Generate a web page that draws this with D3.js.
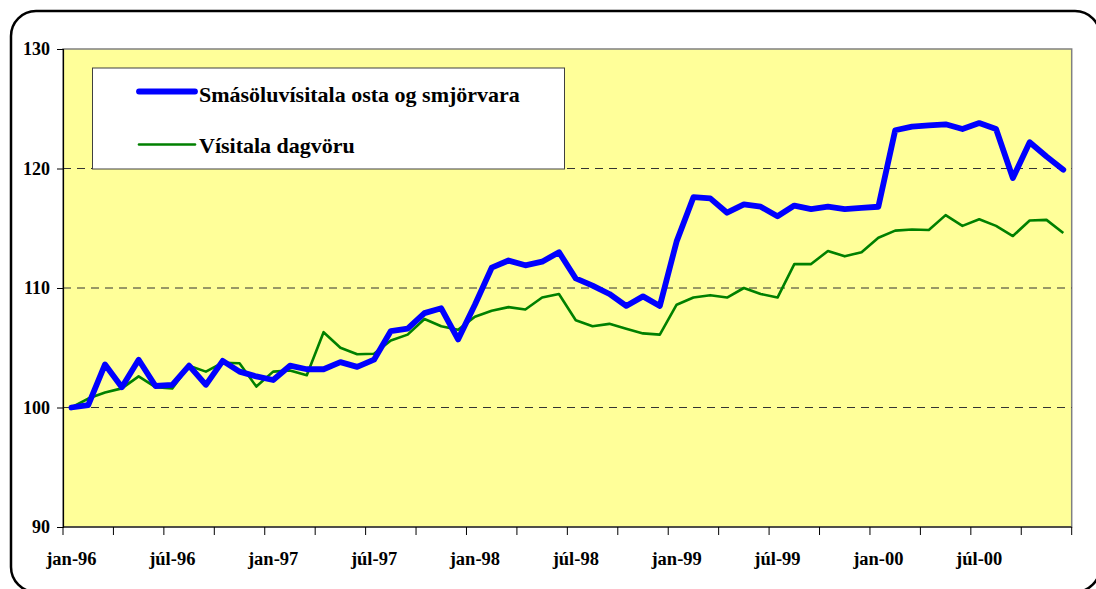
<!DOCTYPE html>
<html>
<head>
<meta charset="utf-8">
<script src="https://cdn.jsdelivr.net/npm/d3@7"></script>
<style>
    html, body { margin: 0; padding: 0; background: #ffffff; overflow: hidden; }
    svg { display: block; }
</style>
</head>
<body>
<svg id="chart" width="1096" height="589"></svg>
<script>
// month names (only jan and júl get labels)
const monthNames = ['jan', 'feb', 'mar', 'apr', 'maí', 'jún', 'júl', 'ágú', 'sep', 'okt', 'nóv', 'des'];
const years = ['96', '97', '98', '99', '00'];
const categories = [];
years.forEach(y => monthNames.forEach(m => categories.push(`${m}-${y}`)));

const seriesNames = ['Smásöluvísitala osta og smjörvara', 'Vísitala dagvöru'];

const ostaSmjor = [
    100.0, 100.2, 103.6, 101.7, 104.0, 101.8, 101.9, 103.5, 101.9, 103.9, 103.0, 102.6,
    102.3, 103.5, 103.2, 103.2, 103.8, 103.4, 104.0, 106.4, 106.6, 107.9, 108.3, 105.7,
    108.6, 111.7, 112.3, 111.9, 112.2, 113.0, 110.8, 110.2, 109.5, 108.5, 109.3, 108.5,
    113.9, 117.6, 117.5, 116.3, 117.0, 116.8, 116.0, 116.9, 116.6, 116.8, 116.6, 116.7,
    116.8, 123.2, 123.5, 123.6, 123.7, 123.3, 123.8, 123.3, 119.2, 122.2, 121.0, 119.9
];

const dagvara = [
    100.0, 100.75, 101.25, 101.6, 102.6, 101.7, 101.6, 103.5, 103.0, 103.75, 103.7, 101.75,
    103.0, 103.1, 102.7, 106.3, 105.0, 104.45, 104.5, 105.6, 106.1, 107.4, 106.8, 106.5,
    107.6, 108.1, 108.4, 108.2, 109.2, 109.5, 107.3, 106.8, 107.0, 106.6, 106.2, 106.1,
    108.6, 109.2, 109.4, 109.2, 110.0, 109.5, 109.2, 112.0, 112.0, 113.1, 112.65, 113.0,
    114.2, 114.8, 114.9, 114.85, 116.1, 115.2, 115.75, 115.2, 114.35, 115.65, 115.7, 114.6
];

const yTicks = [90, 100, 110, 120, 130];
const gridValues = [100, 110, 120];

(function () {
    const FONT = '"Liberation Serif", "Times New Roman", serif';
    const svg = d3.select('#chart');

    const plot = { left: 63, right: 1071.7, top: 49, bottom: 527 };

    // rounded outer frame (runs slightly off the bottom/right edge)
    svg.append('rect')
        .attr('x', 11).attr('y', 11)
        .attr('width', 1089).attr('height', 581)
        .attr('rx', 25).attr('ry', 25)
        .attr('fill', '#ffffff')
        .attr('stroke', '#000000')
        .attr('stroke-width', 2.5);

    const x = d3.scaleBand()
        .domain(categories)
        .range([plot.left, plot.right])
        .padding(0);

    const y = d3.scaleLinear()
        .domain([90, 130])
        .range([plot.bottom, plot.top]);

    const cx = (d) => x(d) + x.bandwidth() / 2;

    // plot area
    svg.append('rect')
        .attr('x', plot.left).attr('y', plot.top)
        .attr('width', plot.right - plot.left).attr('height', plot.bottom - plot.top)
        .attr('fill', '#ffff99')
        .attr('stroke', '#808080')
        .attr('stroke-width', 1.5);

    // gridlines
    svg.append('g')
        .selectAll('line')
        .data(gridValues)
        .join('line')
        .attr('x1', plot.left).attr('x2', plot.right)
        .attr('y1', d => y(d)).attr('y2', d => y(d))
        .attr('stroke', '#333333')
        .attr('stroke-width', 1)
        .attr('stroke-dasharray', '8,6');

    // y axis
    const yAxis = svg.append('g')
        .attr('transform', `translate(${plot.left},0)`)
        .call(d3.axisLeft(y).tickValues(yTicks).tickSize(6).tickPadding(7).tickFormat(d3.format('d')));
    yAxis.select('.domain').attr('stroke', '#000').attr('stroke-width', 1.2);
    yAxis.selectAll('.tick line').attr('stroke', '#000');
    yAxis.selectAll('.tick text')
        .style('font-family', FONT)
        .style('font-size', '18px')
        .style('font-weight', 'bold')
        .attr('fill', '#000');

    // x axis line
    svg.append('line')
        .attr('x1', plot.left).attr('x2', plot.right)
        .attr('y1', plot.bottom).attr('y2', plot.bottom)
        .attr('stroke', '#000').attr('stroke-width', 1.2);

    // tick marks every third month, at band boundaries
    const tickCats = categories.filter((d, i) => i % 3 === 0);
    svg.append('g')
        .selectAll('line')
        .data(tickCats.concat(['__end']))
        .join('line')
        .attr('x1', d => d === '__end' ? plot.right : x(d))
        .attr('x2', d => d === '__end' ? plot.right : x(d))
        .attr('y1', plot.bottom).attr('y2', plot.bottom + 8)
        .attr('stroke', '#000').attr('stroke-width', 1);

    // labels every sixth month, centred on the month
    svg.append('g')
        .selectAll('text')
        .data(categories.filter((d, i) => i % 6 === 0))
        .join('text')
        .attr('x', d => cx(d))
        .attr('y', 565)
        .attr('text-anchor', 'middle')
        .style('font-family', FONT)
        .style('font-size', '18.5px')
        .style('font-weight', 'bold')
        .text(d => d);

    // series
    const line = d3.line()
        .x((d, i) => cx(categories[i]))
        .y(d => y(d));

    svg.append('path')
        .datum(dagvara)
        .attr('d', line)
        .attr('fill', 'none')
        .attr('stroke', '#008000')
        .attr('stroke-width', 2.6)
        .attr('stroke-linejoin', 'round');

    svg.append('path')
        .datum(ostaSmjor)
        .attr('d', line)
        .attr('fill', 'none')
        .attr('stroke', '#0000ff')
        .attr('stroke-width', 5.8)
        .attr('stroke-linejoin', 'round')
        .attr('stroke-linecap', 'round');

    // legend
    const legend = svg.append('g');
    legend.append('rect')
        .attr('x', 92.5).attr('y', 68)
        .attr('width', 472).attr('height', 101)
        .attr('fill', '#ffffff')
        .attr('stroke', '#404040')
        .attr('stroke-width', 1);

    const legendItems = [
        { name: seriesNames[0], color: '#0000ff', width: 5.8, ly: 91.5, ty: 101.5 },
        { name: seriesNames[1], color: '#008000', width: 2.6, ly: 144.5, ty: 152.5 }
    ];

    legendItems.forEach(item => {
        legend.append('line')
            .attr('x1', 139).attr('x2', 195)
            .attr('y1', item.ly).attr('y2', item.ly)
            .attr('stroke', item.color)
            .attr('stroke-width', item.width)
            .attr('stroke-linecap', 'round');
        legend.append('text')
            .attr('x', 199)
            .attr('y', item.ty)
            .style('font-family', FONT)
            .style('font-size', '22px')
            .style('font-weight', 'bold')
            .text(item.name);
    });
})();
</script>
</body>
</html>
